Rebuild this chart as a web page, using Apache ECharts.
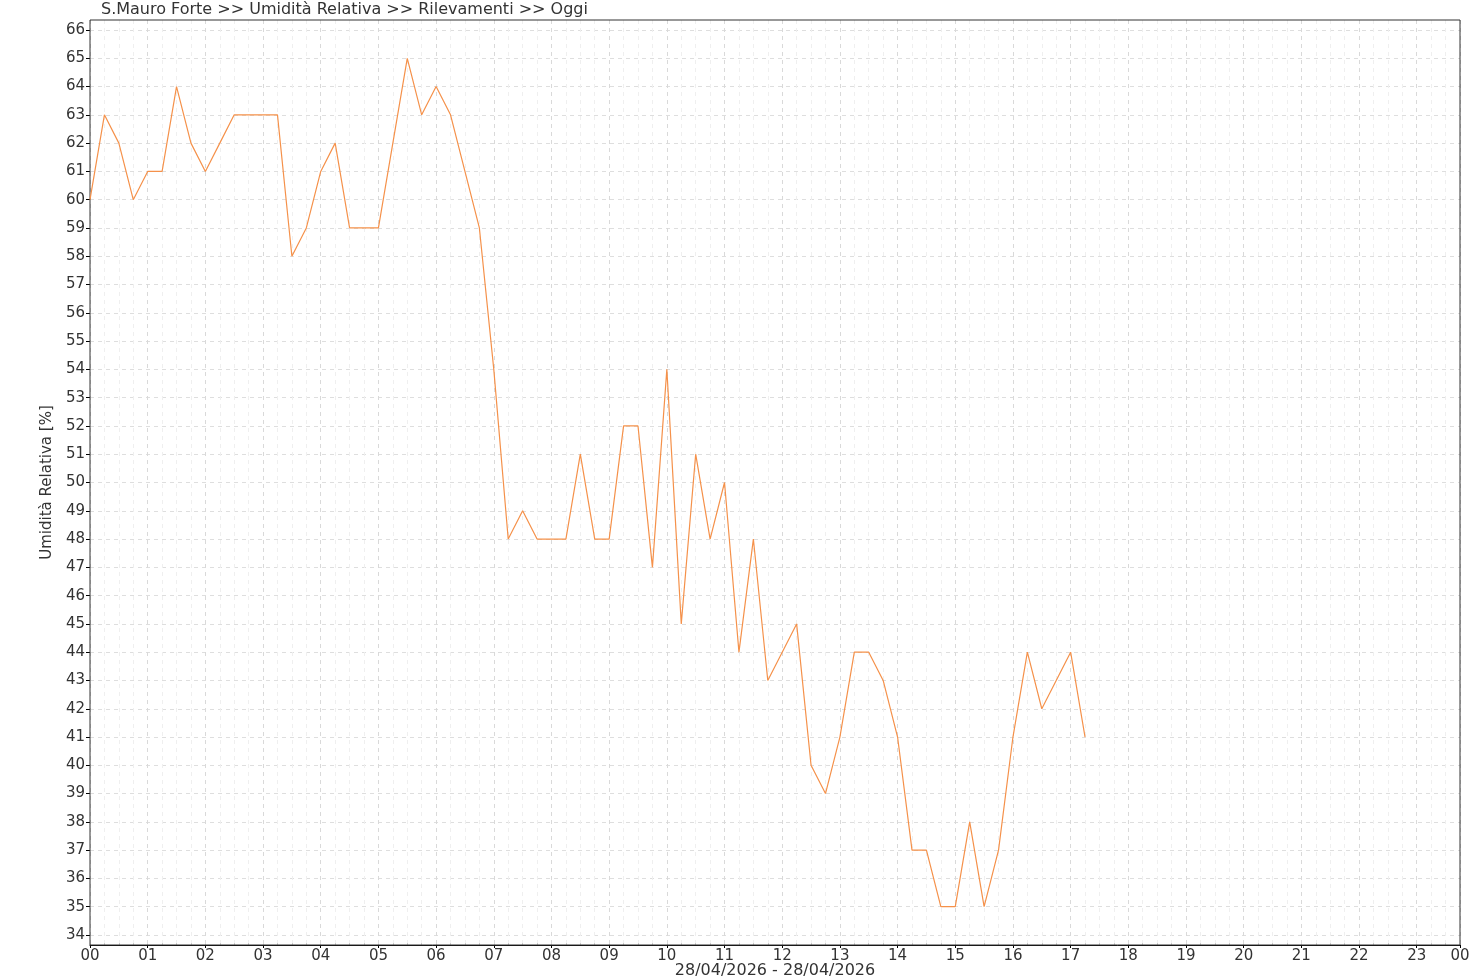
<!DOCTYPE html>
<html>
<head>
<meta charset="utf-8">
<script src="https://cdn.jsdelivr.net/npm/echarts@6/dist/echarts.min.js"></script>
<style>
html,body{margin:0;padding:0;background:#fff;}
#chart{width:1480px;height:980px;}
</style>
</head>
<body>
<div id="chart"></div>
<script>
const chartTitle = 'S.Mauro Forte >> Umidità Relativa >> Rilevamenti >> Oggi';
const yAxisName = 'Umidità Relativa [%]';
const xAxisName = '28/04/2026 - 28/04/2026';

const times = [
  '00:00','00:15','00:30','00:45','01:00','01:15','01:30','01:45',
  '02:00','02:15','02:30','02:45','03:00','03:15','03:30','03:45',
  '04:00','04:15','04:30','04:45','05:00','05:15','05:30','05:45',
  '06:00','06:15','06:30','06:45','07:00','07:15','07:30','07:45',
  '08:00','08:15','08:30','08:45','09:00','09:15','09:30','09:45',
  '10:00','10:15','10:30','10:45','11:00','11:15','11:30','11:45',
  '12:00','12:15','12:30','12:45','13:00','13:15','13:30','13:45',
  '14:00','14:15','14:30','14:45','15:00','15:15','15:30','15:45',
  '16:00','16:15','16:30','16:45','17:00','17:15'
];
const humidity = [
  60,63,62,60, 61,61,64,62,
  61,62,63,63, 63,63,58,59,
  61,62,59,59, 59,62,65,63,
  64,63,61,59, 54,48,49,48,
  48,48,51,48, 48,52,52,47,
  54,45,51,48, 50,44,48,43,
  44,45,40,39, 41,44,44,43,
  41,37,37,35, 35,38,35,37,
  41,44,42,43, 44,41
];
const hourLabels = ['00','01','02','03','04','05','06','07','08','09','10','11',
  '12','13','14','15','16','17','18','19','20','21','22','23'];
const endLabel = '00';
const xStart = '00:00', xEnd = '23:45';
const yMin = 34, yMax = 66;

function toHours(t){ const p = t.split(':'); return (+p[0]) + (+p[1])/60; }
const seriesData = times.map((t,i)=>[toHours(t), humidity[i]]);
const xMin = toHours(xStart), xMax = toHours(xEnd);

const FONT = 'DejaVu Sans';
const TXT = '#333';
const chart = echarts.init(document.getElementById('chart'), null, {renderer:'canvas'});
chart.setOption({
  animation:false,
  backgroundColor:'#fff',
  title:{
    text: chartTitle, left: 101, top: 2, padding: 0,
    textStyle:{fontFamily:FONT, fontSize:16, fontWeight:'normal', color:TXT}
  },
  grid:[
    {left:90, right:20, top:30, bottom:45, outerBoundsMode:'none', containLabel:false},
    {left:90, right:20, top:20, bottom:35, outerBoundsMode:'none', containLabel:false,
      show:true, borderColor:'#333', borderWidth:1, backgroundColor:'transparent', z:3}
  ],
  xAxis:[
    {gridIndex:0, type:'value', min:xMin, max:xMax, show:false, position:'bottom'},
    {gridIndex:1, type:'value', min:xMin, max:xMax, interval:0.25, z:0, position:'bottom',
      axisLine:{show:false}, axisLabel:{show:false},
      axisTick:{show:true, inside:true, length:2, lineStyle:{color:'#ccc'}},
      splitLine:{show:true, lineStyle:{color:'#efefef', type:[4,4], width:1}}
    },
    {gridIndex:1, type:'value', min:xMin, max:xMax, interval:1, z:1, position:'bottom',
      name: xAxisName, nameLocation:'middle', nameGap:18, nameMoveOverlap:false,
      nameTextStyle:{fontFamily:FONT, fontSize:16, color:TXT},
      axisLine:{show:true, lineStyle:{color:'#000', width:1}},
      axisTick:{show:true, length:3, lineStyle:{color:'#000'}},
      axisLabel:{fontFamily:FONT, fontSize:15, color:TXT, margin:4, showMaxLabel:true,
        formatter:(v)=> v > 23.5 ? endLabel : hourLabels[Math.round(v)]},
      splitLine:{show:true, lineStyle:{color:'#d9d9d9', type:[4,4], width:1}}
    }
  ],
  yAxis:[
    {gridIndex:0, type:'value', min:yMin, max:yMax, interval:1, position:'left',
      name: yAxisName, nameLocation:'middle', nameGap:35, nameMoveOverlap:false,
      nameTextStyle:{fontFamily:FONT, fontSize:15, color:TXT},
      axisLine:{show:false},
      axisTick:{show:true, length:4, lineStyle:{color:'#000'}},
      axisLabel:{fontFamily:FONT, fontSize:15, color:TXT, margin:5},
      splitLine:{show:true, lineStyle:{color:'#dedede', type:[4,4], width:1}}
    },
    {gridIndex:1, type:'value', min:0, max:1, show:false, position:'left'}
  ],
  series:[{
    type:'line', xAxisIndex:0, yAxisIndex:0,
    data: seriesData, showSymbol:false, symbol:'none',
    lineStyle:{color:'#f5914a', width:1.2},
    itemStyle:{color:'#f5914a'}
  }]
});
</script>
</body>
</html>
